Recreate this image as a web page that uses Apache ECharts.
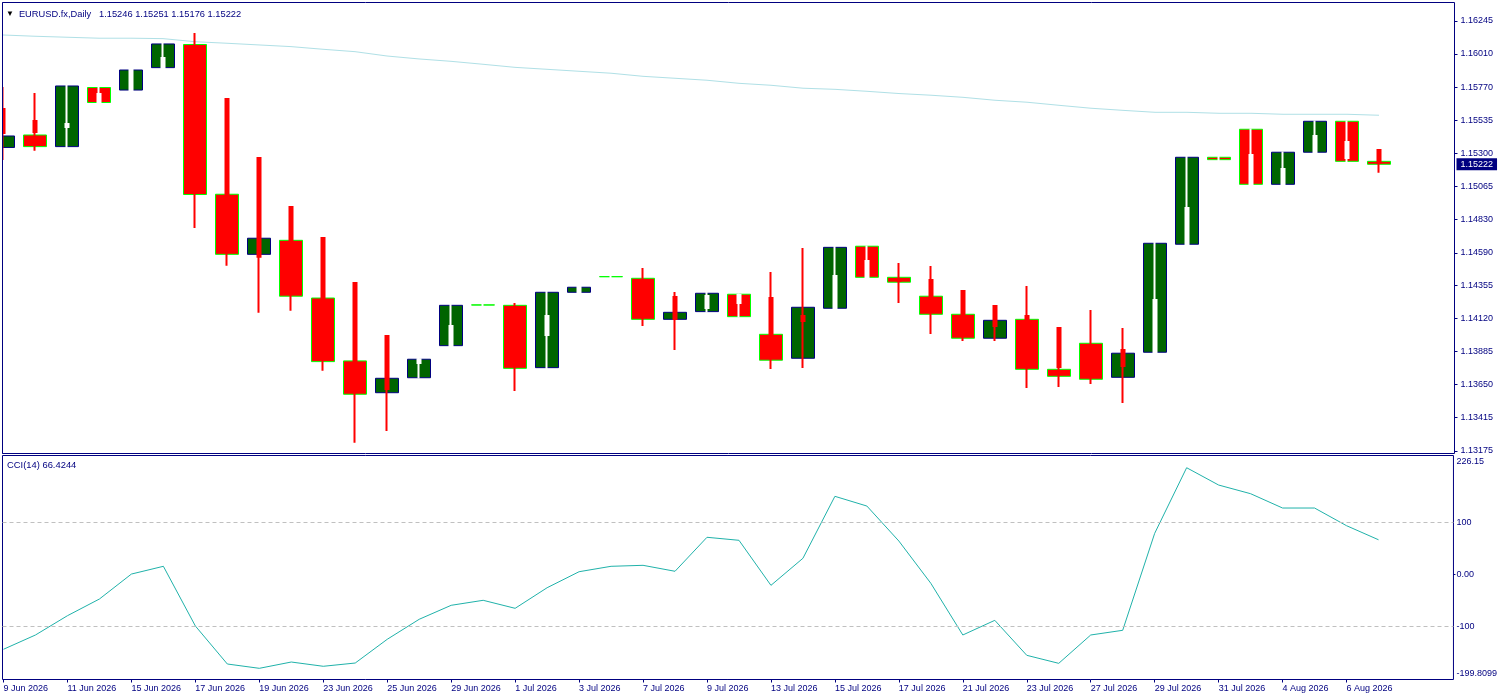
<!DOCTYPE html>
<html>
<head>
<meta charset="utf-8">
<title>EURUSD.fx,Daily</title>
<script src="https://cdn.jsdelivr.net/npm/echarts@6/dist/echarts.min.js"></script>
<style>
  html, body { margin: 0; padding: 0; background: #fff; }
  #main { width: 1500px; height: 700px; }
</style>
</head>
<body>
<div id="main"></div>
<script>
// wide candle bodies
var bodyOpen = [1.15342,1.15431,1.15348,1.15770,1.15752,1.15912,1.16077,1.15008,1.14579,1.14679,1.14267,
  1.13818,1.13591,1.13698,1.13927,1.14218,1.14215,1.13770,1.14308,1.14420,1.14408,1.14115,
  1.14170,1.14294,1.14008,1.13837,1.14194,1.14637,1.14415,1.14280,1.14151,1.13980,1.14115,
  1.13758,1.13944,1.13701,1.13880,1.14651,1.15272,1.15472,1.15079,1.15308,1.15529,1.15243];
var bodyClose = [1.15424,1.15348,1.15781,1.15663,1.15895,1.16081,1.15006,1.14579,1.14694,1.14280,1.13813,
  1.13580,1.13694,1.13830,1.14215,1.14217,1.13765,1.14308,1.14344,1.14419,1.14115,1.14165,
  1.14301,1.14134,1.13823,1.14201,1.14629,1.14415,1.14380,1.14151,1.13980,1.14108,1.13758,
  1.13708,1.13687,1.13873,1.14658,1.15272,1.15255,1.15079,1.15308,1.15529,1.15243,1.15222];

// thin overlay candles, white when rising and red when falling
var thinOpen = [1.15617,1.15531,1.15488,1.15660,1.15745,1.15906,1.15681,1.15688,1.15267,1.14917,1.14696,
  1.14375,1.13996,1.13803,1.13921,1.14246,1.14110,1.14003,1.14303,1.14446,1.14325,1.14275,
  1.14196,1.14232,1.14267,1.14139,1.14189,1.14410,1.14403,1.14396,1.14317,1.14210,1.14139,
  1.14053,1.13896,1.13896,1.13875,1.14646,1.15303,1.15074,1.15074,1.15303,1.15267,1.15324];
var thinClose = [1.15445,1.15453,1.15510,1.15724,1.15902,1.15981,1.15610,1.14967,1.14562,1.14646,1.14239,
  1.13789,1.13618,1.13830,1.14068,1.14253,1.14039,1.14139,1.14346,1.14453,1.14253,1.14117,
  1.14282,1.14289,1.14010,1.14103,1.14425,1.14532,1.14389,1.14282,1.14110,1.14068,1.14075,
  1.13775,1.13825,1.13782,1.14253,1.14910,1.15310,1.15288,1.15188,1.15424,1.15381,1.15231];
var thinLow = [1.15253,1.15319,1.15338,1.15660,1.15745,1.15906,1.14767,1.14498,1.14162,1.14177,1.13748,
  1.13234,1.13318,1.13693,1.13921,1.14196,1.13603,1.13760,1.14303,1.14389,1.14068,1.13896,
  1.14164,1.14128,1.13760,1.13768,1.14189,1.14410,1.14232,1.14010,1.13960,1.13960,1.13625,
  1.13632,1.13653,1.13518,1.13875,1.14646,1.15238,1.15074,1.15074,1.15303,1.15238,1.15162];
var thinHigh = [1.15774,1.15731,1.15788,1.15774,1.15902,1.16088,1.16159,1.15688,1.15267,1.14917,1.14696,
  1.14375,1.13996,1.13839,1.14225,1.14253,1.14232,1.14317,1.14350,1.14453,1.14482,1.14310,
  1.14310,1.14300,1.14453,1.14624,1.14639,1.14642,1.14517,1.14496,1.14317,1.14217,1.14353,
  1.14053,1.14182,1.14053,1.14667,1.15281,1.15310,1.15478,1.15313,1.15535,1.15535,1.15324];

var maValues = [1.16145,1.16136,1.16129,1.16122,1.16122,1.16119,1.16097,1.16086,1.16074,1.16062,1.16043,
  1.16026,1.15995,1.15974,1.15957,1.15936,1.15914,1.15900,1.15886,1.15872,1.15850,1.15836,
  1.15822,1.15800,1.15786,1.15765,1.15757,1.15743,1.15727,1.15715,1.15700,1.15679,1.15665,
  1.15643,1.15622,1.15607,1.15593,1.15593,1.15586,1.15586,1.15579,1.15579,1.15579,1.15572];

var cciValues = [-144.2,-116.7,-79.6,-47.5,0.5,15.4,-99.4,-172.5,-180.8,-168.7,-176.9,
  -170.6,-125,-86.5,-59.6,-50,-65.4,-25.8,5,15.4,17.3,5.8,
  71.2,65.4,-21.2,30.8,150,131.3,64,-17.3,-116.7,-88.5,-155.8,
  -171.2,-116.7,-107.7,78.8,205,171.7,155,127.5,127.5,93.5,66.4244];

var dateLabels = ['9 Jun 2026','11 Jun 2026','15 Jun 2026','17 Jun 2026','19 Jun 2026','23 Jun 2026',
  '25 Jun 2026','29 Jun 2026','1 Jul 2026','3 Jul 2026','7 Jul 2026','9 Jul 2026','13 Jul 2026',
  '15 Jul 2026','17 Jul 2026','21 Jul 2026','23 Jul 2026','27 Jul 2026','29 Jul 2026','31 Jul 2026',
  '4 Aug 2026','6 Aug 2026'];
var priceTicks = [1.13175,1.13415,1.13650,1.13885,1.14120,1.14355,1.14590,1.14830,1.15065,1.15300,
  1.15535,1.15770,1.16010,1.16245];
var cciTicks = [-199.8099,-100,0,100,226.15];
var cciLevels = [100,-100];
var lastClose = 1.15222;

var NAVY = '#000080';
var FONT = '"Liberation Sans", Arial, sans-serif';

var chart = echarts.init(document.getElementById('main'), null, { renderer: 'canvas' });

var dateTicks = dateLabels.map(function (d, i) { return i * 2; });

var bodies = bodyOpen.map(function (v, i) { return [i, v, bodyClose[i], Math.min(v, bodyClose[i]), Math.max(v, bodyClose[i])]; });
var thins = thinOpen.map(function (v, i) { return [i, v, thinClose[i], thinLow[i], thinHigh[i]]; });

chart.setOption({
  animation: false,
  backgroundColor: '#fff',
  textStyle: { fontFamily: FONT },
  title: [
    {
      left: 6, top: 5, padding: 0,
      text: '{a|▼} {b|EURUSD.fx,Daily   1.15246 1.15251 1.15176 1.15222}',
      textStyle: { rich: {
        a: { color: '#000', fontSize: 8, fontWeight: 'normal', fontFamily: FONT },
        b: { color: NAVY, fontSize: 9.3, fontWeight: 'normal', fontFamily: FONT }
      } }
    },
    {
      left: 7, top: 461, padding: 0,
      text: 'CCI(14) 66.4244',
      textStyle: { color: NAVY, fontSize: 9.4, fontWeight: 'normal', fontFamily: FONT }
    }
  ],
  // candlesticks don't clip at the pane edge, the first candle is cut here
  graphic: [
    { type: 'rect', z: 100, silent: true, shape: { x: 0, y: 0, width: 2, height: 460 }, style: { fill: '#fff' } },
    { type: 'line', z: 101, silent: true, shape: { x1: 2.5, y1: 2.5, x2: 2.5, y2: 453.5 }, style: { stroke: NAVY, lineWidth: 1 } }
  ],
  grid: [
    { left: 2.5, top: 2.5, width: 1452, height: 451, show: true, borderColor: NAVY, borderWidth: 1, backgroundColor: '#fff' },
    { left: 2.5, top: 455.5, width: 1452, height: 224, show: true, borderColor: NAVY, borderWidth: 1, backgroundColor: '#fff' }
  ],
  xAxis: [
    {
      gridIndex: 0, type: 'value', min: -0.015625, max: 45.359375,
      axisLine: { show: false, onZero: false }, axisTick: { show: false }, axisLabel: { show: false }, splitLine: { show: false }
    },
    {
      gridIndex: 1, type: 'value', min: -0.03125, max: 45.34375, position: 'bottom',
      axisLine: { show: false, onZero: false }, splitLine: { show: false },
      axisTick: { show: true, length: 3, customValues: dateTicks, lineStyle: { color: NAVY } },
      axisLabel: {
        show: true, customValues: dateTicks, align: 'left', margin: 5,
        color: NAVY, fontSize: 9, fontFamily: FONT,
        formatter: function (v) { return dateLabels[v / 2]; }
      }
    }
  ],
  yAxis: [
    {
      gridIndex: 0, type: 'value', position: 'right', min: 1.13157, max: 1.16377,
      axisLine: { show: false, onZero: false }, splitLine: { show: false },
      axisTick: { show: true, length: 3, customValues: priceTicks, lineStyle: { color: NAVY } },
      axisLabel: {
        show: true, customValues: priceTicks, margin: 6,
        color: NAVY, fontSize: 9, fontFamily: FONT,
        formatter: function (v) { return v.toFixed(5); }
      }
    },
    {
      gridIndex: 1, type: 'value', position: 'right', min: -202.3, max: 228.5,
      axisLine: { show: false, onZero: false }, splitLine: { show: false },
      axisTick: { show: true, length: 2, customValues: [0], lineStyle: { color: NAVY } },
      axisLabel: {
        show: true, customValues: cciTicks, margin: 3,
        verticalAlignMaxLabel: 'top', verticalAlignMinLabel: 'bottom',
        color: NAVY, fontSize: 9, fontFamily: FONT,
        formatter: function (v) { return v === 0 ? '0.00' : String(v); }
      }
    }
  ],
  series: [
    {
      name: 'body', type: 'candlestick', xAxisIndex: 0, yAxisIndex: 0, z: 2,
      data: bodies, encode: { x: 0, y: [1, 2, 3, 4] }, barWidth: 23,
      itemStyle: { color: '#006400', borderColor: NAVY, color0: '#ff0000', borderColor0: '#00ff00', borderWidth: 1 }
    },
    {
      name: 'ma', type: 'line', xAxisIndex: 0, yAxisIndex: 0, z: 3,
      data: maValues.map(function (v, i) { return [i, v]; }),
      showSymbol: false, symbol: 'none', lineStyle: { color: '#b0e0e6', width: 1 },
      markLine: {
        silent: true, symbol: 'none', animation: false, precision: 5,
        lineStyle: { width: 0, opacity: 0 },
        data: [{ yAxis: lastClose }],
        label: {
          position: 'end', distance: 2, formatter: lastClose.toFixed(5), color: '#fff', opacity: 1,
          backgroundColor: NAVY, padding: [2, 4, 1, 4], fontSize: 9, fontFamily: FONT
        }
      }
    },
    {
      name: 'thin', type: 'candlestick', xAxisIndex: 0, yAxisIndex: 0, z: 4,
      data: thins, encode: { x: 0, y: [1, 2, 3, 4] }, barWidth: 3,
      itemStyle: { color: '#ffffff', borderColor: '#ffffff', color0: '#ff0000', borderColor0: '#ff0000', borderWidth: 2 }
    },
    {
      name: 'cci', type: 'line', xAxisIndex: 1, yAxisIndex: 1,
      data: cciValues.map(function (v, i) { return [i, v]; }),
      showSymbol: false, symbol: 'none', lineStyle: { color: '#20b2aa', width: 1 },
      markLine: {
        silent: true, symbol: 'none', animation: false, precision: 4,
        lineStyle: { color: '#c0c0c0', type: [4, 3], width: 1 },
        label: { show: false },
        data: cciLevels.map(function (v) { return { yAxis: v }; })
      }
    }
  ]
});
</script>
</body>
</html>
